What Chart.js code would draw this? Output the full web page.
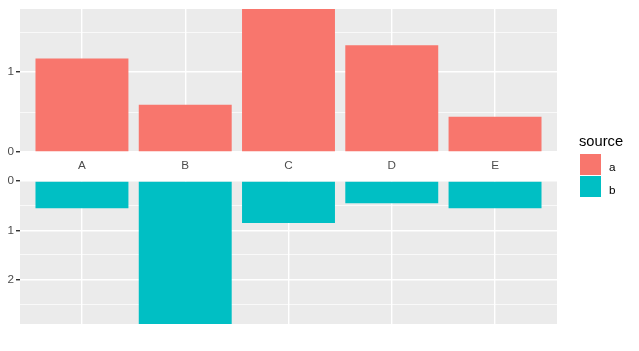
<!DOCTYPE html>
<html>
<head>
<meta charset="utf-8">
<script src="https://cdn.jsdelivr.net/npm/chart.js@4/dist/chart.umd.min.js"></script>
<style>
  html, body { margin: 0; padding: 0; background: #ffffff; }
  body { width: 639px; height: 351px; position: relative; overflow: hidden;
         font-family: 'Liberation Sans', Arial, sans-serif; }
  #top { position: absolute; left: 0; top: 0; }
  #bot { position: absolute; left: 0; top: 172px; }
  .lg { position: absolute; white-space: nowrap; }
  .title { left: 579px; top: 134px; font-size: 14.7px; line-height: 14.7px; color: #000; }
  .key { position: absolute; width: 21px; height: 21px; left: 580px; }
  .lab { left: 609px; font-size: 11.7px; line-height: 11.7px; color: #000; }
</style>
</head>
<body>
<canvas id="top" width="639" height="180"></canvas>
<canvas id="bot" width="639" height="179"></canvas>
<div class="lg title">source</div>
<div class="key" style="top:154px;background:#F8766D"></div>
<div class="key" style="top:176px;background:#00BFC4"></div>
<div class="lg lab" id="la" style="top:160.5px">a</div>
<div class="lg lab" id="lb" style="top:183.5px">b</div>
<script>
// ---- data ----
const categories = ['A', 'B', 'C', 'D', 'E'];
const seriesA = [1.17, 0.59, 1.79, 1.335, 0.44];
const seriesB = [0.553, 2.90, 0.85, 0.453, 0.553];
const topTicks = [0, 0.5, 1, 1.5];
const bottomTicks = [0, 0.5, 1, 1.5, 2, 2.5];
const topMax = 1.79;
const bottomMax = 2.9;

Chart.defaults.font.family = "'Liberation Sans', Arial, sans-serif";
Chart.defaults.animation = false;

const panelBg = {
  id: 'panelBg',
  beforeDraw(chart) {
    const a = chart.chartArea, c = chart.ctx;
    c.save(); c.fillStyle = '#EBEBEB';
    c.fillRect(a.left, a.top, a.right - a.left, a.bottom - a.top);
    c.restore();
  }
};

const isMajor = v => Math.abs(v - Math.round(v)) < 1e-9;

function makeChart(id, values, color, ticksArr, maxV, reverse, showLabels, padding) {
  return new Chart(document.getElementById(id), {
    type: 'bar',
    data: {
      datasets: [{
        data: values.map((v, i) => ({ x: i + 1, y: v })),
        backgroundColor: color,
        borderWidth: 0,
        barPercentage: 0.9,
        categoryPercentage: 1.0
      }]
    },
    options: {
      responsive: false,
      maintainAspectRatio: false,
      layout: { padding: padding, autoPadding: false },
      plugins: { legend: { display: false }, tooltip: { enabled: false } },
      scales: {
        x: {
          type: 'linear',
          min: 0.4, max: 5.6,
          offset: false,
          afterBuildTicks: s => { s.ticks = categories.map((c, i) => ({ value: i + 1 })); },
          afterFit: s => { s.height = showLabels ? 28 : 0; },
          grid: { color: '#FFFFFF', lineWidth: 1.42, drawTicks: false, offset: false },
          border: { display: false },
          ticks: {
            display: showLabels,
            padding: 7,
            color: '#4D4D4D',
            font: { size: 11.7 },
            maxRotation: 0,
            autoSkip: false,
            callback: v => categories[Math.round(v) - 1]
          }
        },
        y: {
          min: 0, max: maxV,
          reverse: reverse,
          afterBuildTicks: s => { s.ticks = ticksArr.map(v => ({ value: v })); },
          afterFit: s => { s.width = 20; },
          grid: {
            color: '#FFFFFF',
            lineWidth: ctx => (ctx.tick && isMajor(ctx.tick.value)) ? 1.42 : 0.71,
            tickColor: ctx => (ctx.tick && isMajor(ctx.tick.value)) ? '#333333' : 'rgba(0,0,0,0)',
            tickLength: 4,
            drawTicks: true
          },
          border: { display: false },
          ticks: {
            padding: 2,
            color: '#4D4D4D',
            font: { size: 11.7 },
            autoSkip: false,
            callback: v => isMajor(v) ? String(Math.round(v)) : ''
          }
        }
      }
    },
    plugins: [panelBg]
  });
}

makeChart('top', seriesA, '#F8766D', topTicks, topMax, false, true,
          { top: 7, right: 82, left: 0, bottom: 0 });
makeChart('bot', seriesB, '#00BFC4', bottomTicks, bottomMax, true, false,
          { top: 8, right: 82, left: 0, bottom: 27 });
</script>
</body>
</html>
